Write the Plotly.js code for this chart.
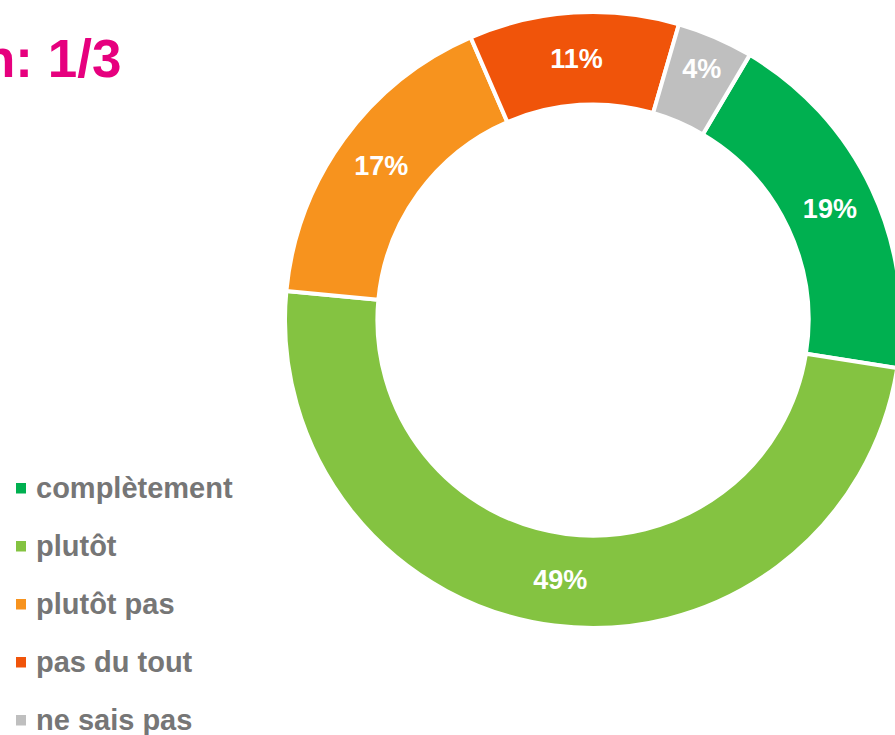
<!DOCTYPE html>
<html>
<head>
<meta charset="utf-8">
<script src="https://cdn.plot.ly/plotly-3.0.1.min.js"></script>
<style>
html,body{margin:0;padding:0;overflow:hidden;background:#fff;}
#chart{width:910px;height:735px;}
</style>
</head>
<body>
<div id="chart"></div>
<script>
// Data
const categories = ["complètement", "plutôt", "plutôt pas", "pas du tout", "ne sais pas"];
const values = [19, 49, 17, 11, 4];
const colors = ["#00B050", "#84C341", "#F7931E", "#F0540A", "#BFBFBF"];
const titleText = "n: 1/3";

const W = 910, H = 735;
const px = x => x / W;
const py = y => 1 - y / H;

// pie geometry (pixels)
const cx = 593, cy = 320, R = 308;

const trace = {
  type: "pie",
  labels: categories,
  values: values,
  sort: false,
  direction: "clockwise",
  rotation: 30.6,
  hole: 0.70,
  marker: {colors: colors, line: {color: "#ffffff", width: 4}},
  texttemplate: "%{value}%",
  textposition: "inside",
  insidetextorientation: "horizontal",
  textfont: {family: "Arial, 'Liberation Sans', sans-serif", size: 27, color: "#ffffff", weight: "bold"},
  domain: {x: [px(cx - R), px(cx + R)], y: [py(cy + R), py(cy - R)]},
  showlegend: false,
  hoverinfo: "label+percent"
};

const annotations = [{
  text: "<b>" + titleText + "</b>",
  xref: "paper", yref: "paper",
  x: px(123), y: py(58), xanchor: "right", yanchor: "middle",
  showarrow: false,
  font: {family: "Arial, 'Liberation Sans', sans-serif", size: 53, color: "#E6007E"}
}];
const shapes = [];
const rowTop = 488, rowGap = 58;
categories.forEach((c, i) => {
  const yc = rowTop + i * rowGap;
  annotations.push({
    text: "<b>" + c + "</b>",
    xref: "paper", yref: "paper",
    x: px(34), y: py(yc), xanchor: "left", yanchor: "middle",
    showarrow: false,
    font: {family: "Arial, 'Liberation Sans', sans-serif", size: 29, color: "#767676"}
  });
  shapes.push({
    type: "rect", xref: "paper", yref: "paper",
    x0: px(16), x1: px(26), y0: py(yc + 5.5), y1: py(yc - 5),
    fillcolor: colors[i], line: {width: 0}
  });
});

const layout = {
  width: W, height: H,
  margin: {l: 0, r: 0, t: 0, b: 0},
  paper_bgcolor: "#ffffff",
  showlegend: false,
  annotations: annotations,
  shapes: shapes,
  font: {family: "Arial, 'Liberation Sans', sans-serif"}
};

Plotly.newPlot("chart", [trace], layout, {displayModeBar: false, staticPlot: true});
</script>
</body>
</html>
